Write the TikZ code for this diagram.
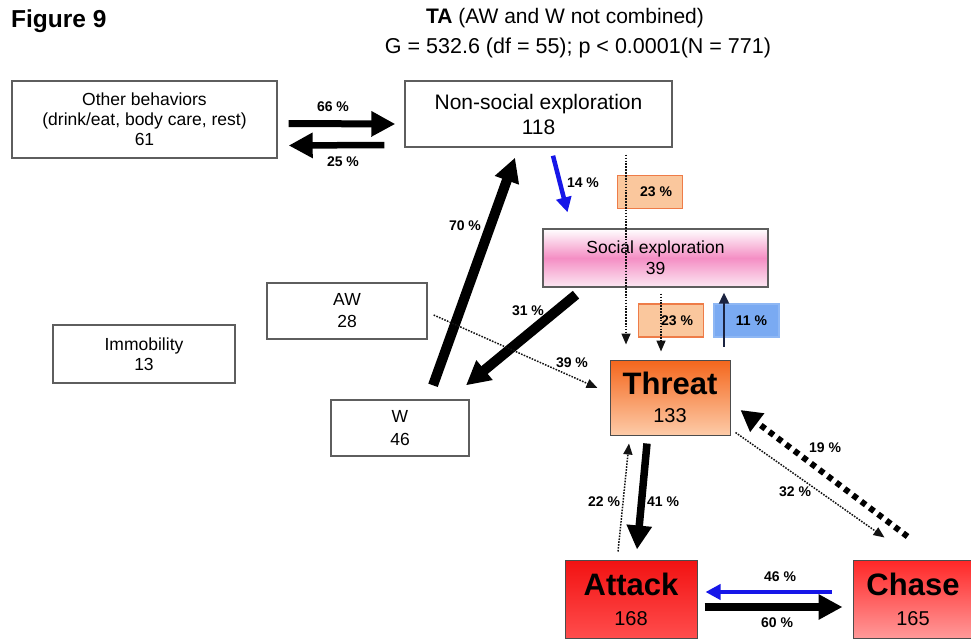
\documentclass[tikz,border=0pt]{standalone}
\usepackage{fontspec}
\setmainfont{Liberation Sans}
\usetikzlibrary{arrows.meta,calc,positioning}
\definecolor{boxline}{HTML}{5E5E5E}
\definecolor{flowblue}{HTML}{1616E8}
\definecolor{navyline}{HTML}{1B2340}
\definecolor{sepink}{HTML}{F48EC4}
\definecolor{thrtop}{HTML}{F4661C}
\definecolor{thrbot}{HTML}{FDCBA8}
\definecolor{peach}{HTML}{FAC79D}
\definecolor{peachline}{HTML}{EE7C48}
\definecolor{skyblue}{HTML}{7AAAF2}
\definecolor{redtop}{HTML}{F21212}
\def\boxfont{\fontsize{17.5}{21}\selectfont}
\def\pctfont{\bfseries\fontsize{14}{16}\selectfont}
\tikzset{
  plainbox/.style={draw=boxline, line width=1.4, fill=white, align=center, inner sep=0pt},
  hotbox/.style={draw=gray!60!black, line width=1, align=center, inner sep=0pt},
  tinybox/.style={line width=1.2, minimum width=65, minimum height=33, inner sep=0pt, font=\pctfont},
  pct/.style={font=\pctfont, inner sep=1pt},
  bigarrow/.style={black, line width=#1, -{Triangle[length=24pt,width=24pt]}},
  bigarrow/.default=8,
  bluearrow/.style={flowblue, line width=4.5, -{Triangle[length=15pt,width=15pt]}},
  dotarrow/.style={gray!15!black, line width=1.5, dash pattern=on 1.6pt off 1.3pt, -{Triangle[length=11pt,width=9pt]}},
  squarearrow/.style={black, line width=6, dash pattern=on 5.5pt off 5pt, -{Triangle[length=21pt,width=22pt]}}
}

\begin{document}
\begin{tikzpicture}[x=1pt,y=-1pt]
    \useasboundingbox (0,0) rectangle (971,640);
    % headings
    \node[anchor=west, font=\bfseries\fontsize{24.5}{28}\selectfont, inner sep=0pt] (fig) at (11,21) {Figure 9};
    \node[font=\fontsize{21}{24}\selectfont] (ttl) at (565,18) {\textbf{TA} (AW and W not combined)};
    \node[font=\fontsize{21.5}{24}\selectfont] (stat) at (578,48) {G = 532.6 (df = 55); p < 0.0001(N = 771)};

    % behaviour boxes
    \node[plainbox, minimum width=265, minimum height=77, font=\fontsize{17.5}{20}\selectfont] (other) at (144.5,119.5)
        {Other behaviors\\(drink/eat, body care, rest)\\61};
    \node[plainbox, minimum width=267, minimum height=66, font=\fontsize{21}{25}\selectfont] (nse) at (538.5,114)
        {Non-social exploration\\118};
    \node[hotbox, draw=boxline, line width=1.4, minimum width=225, minimum height=58, font=\boxfont,
        top color=white, bottom color=white!80!sepink, middle color=sepink] (se) at (655.5,258)
        {Social exploration\\39};
    \node[plainbox, minimum width=160, minimum height=56, font=\fontsize{17.5}{22}\selectfont] (aw) at (347,311) {AW\\28};
    \node[plainbox, minimum width=182, minimum height=58, font=\fontsize{17.5}{20}\selectfont] (imm) at (144,354) {Immobility\\13};
    \node[plainbox, minimum width=138, minimum height=56, font=\fontsize{17.5}{23}\selectfont] (w) at (400,428) {W\\46};
    \node[hotbox, minimum width=120, minimum height=75, top color=thrtop, bottom color=thrbot,
        font=\fontsize{20}{28}\selectfont] (threat) at (670,397.5)
        {{\bfseries\fontsize{31}{28}\selectfont Threat}\\133};
    \node[hotbox, minimum width=132, minimum height=78, top color=redtop, bottom color=red!70!white,
        font=\fontsize{20}{30}\selectfont] (attack) at (631,599)
        {{\bfseries\fontsize{31}{30}\selectfont Attack}\\168};
    \node[hotbox, minimum width=120, minimum height=78, top color=red!85!white, bottom color=red!40!white,
        font=\fontsize{20}{30}\selectfont] (chase) at (913,599)
        {{\bfseries\fontsize{31}{30}\selectfont Chase}\\165};

    % percentage boxes
    \node[tinybox, draw=peachline, fill=peach] (p23a) at (650,192) {\hspace*{12pt}23 \%};
    \node[tinybox, draw=peachline, fill=peach] (p23b) at (671,320.5) {\hspace*{12pt}23 \%};
    \node[tinybox, draw=skyblue!85!white, fill=skyblue] (p11) at (746.5,320.5) {\hspace*{10pt}11 \%};

    % transitions
    \draw[bigarrow=7] ($(other.east)+(11,4)$) -- ($(nse.west)+(-9,10)$);
    \draw[bigarrow=6.5] ($(nse.west)+(-20,31)$) -- ($(other.east)+(11,26)$);
    \draw[bigarrow=10] ($(w.north)+(33,-14)$) -- ($(nse.south)+(-23.5,10)$);
    \draw[bluearrow] ($(nse.south)+(14.5,8)$) -- ($(se.north)+(-88,-16)$);
    \draw[dotarrow] ($(nse.south)+(87.5,7)$) -- ($(threat.north)+(-44,-15)$);
    \draw[bigarrow=10] ($(se.south)+(-79.5,7)$) -- ($(w.north)+(66,-14)$);
    \draw[dotarrow] ($(aw.east)+(6,4)$) -- ($(threat.west)+(-12,-9.5)$);
    \draw[dotarrow] ($(se.south)+(5.5,6)$) -- ($(threat.north)+(-9,-8)$);
    \draw[navyline, line width=2.2, -{Triangle[length=11pt,width=10pt]}] ($(threat.north)+(54,-13)$) -- ($(se.south)+(68.5,5)$);
    \draw[bigarrow=7.5] ($(threat.south)+(-23,8)$) -- ($(attack.north)+(6,-10)$);
    \draw[dotarrow] ($(attack.north)+(-13,-8)$) -- ($(threat.south)+(-41,8)$);
    \draw[dotarrow] ($(threat.south east)+(5,-3)$) -- ($(chase.north west)+(32,-22)$);
    \draw[squarearrow] ($(chase.north west)+(55,-23)$) -- ($(threat.east)+(10,12.5)$);
    \draw[bluearrow] ($(chase.west)+(-21,-7)$) -- ($(attack.east)+(8,-7)$);
    \draw[bigarrow=8] ($(attack.east)+(7,8)$) -- ($(chase.west)+(-10,8)$);

    % percentages
    \node[pct] (l66) at (333,107) {66 \%};
    \node[pct] (l25) at (343,162) {25 \%};
    \node[pct] (l70) at (465,226) {70 \%};
    \node[pct] (l14) at (583,183) {14 \%};
    \node[pct] (l31) at (528,311) {31 \%};
    \node[pct] (l39) at (572,363) {39 \%};
    \node[pct] (l22) at (604,502) {22 \%};
    \node[pct] (l41) at (663,502) {41 \%};
    \node[pct] (l32) at (795,492) {32 \%};
    \node[pct] (l19) at (825,448) {19 \%};
    \node[pct] (l46) at (780,577) {46 \%};
    \node[pct] (l60) at (777,623) {60 \%};
\end{tikzpicture}
\end{document}
